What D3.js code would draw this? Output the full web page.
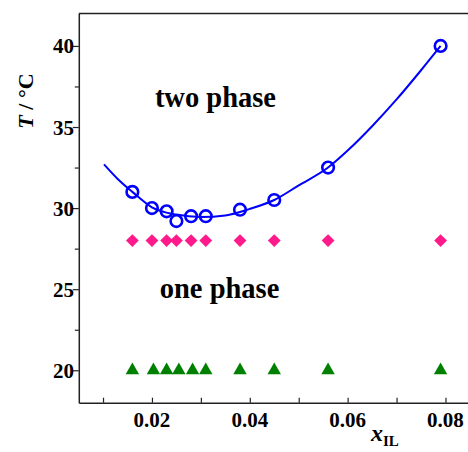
<!DOCTYPE html>
<html>
<head>
<meta charset="utf-8">
<script src="https://cdn.jsdelivr.net/npm/d3@7"></script>
<style>
  html, body { margin: 0; padding: 0; background: #fff; }
  svg { display: block; }
  text { font-family: "Liberation Serif", "Times New Roman", serif; font-weight: bold; }
</style>
</head>
<body>
<svg id="chart" width="468" height="452"></svg>
<script>
// ---- data ----
const cloudX = [0.016, 0.020, 0.023, 0.025, 0.028, 0.031, 0.038, 0.045, 0.056, 0.079];
const cloudT = [31.0, 30.0, 29.8, 29.2, 29.5, 29.5, 29.9, 30.5, 32.5, 40.0];

const twoPhaseX = [0.016, 0.020, 0.023, 0.025, 0.028, 0.031, 0.038, 0.045, 0.056, 0.079];
const twoPhaseT = [28, 28, 28, 28, 28, 28, 28, 28, 28, 28];

const onePhaseX = [0.016, 0.0203, 0.023, 0.0255, 0.0283, 0.031, 0.038, 0.045, 0.056, 0.079];
const onePhaseT = [20, 20, 20, 20, 20, 20, 20, 20, 20, 20];

const fitX = [0.0102, 0.013, 0.016, 0.020, 0.025, 0.030, 0.035, 0.040, 0.045, 0.050, 0.056, 0.060, 0.065, 0.070, 0.075, 0.079];
const fitT = [32.7, 31.8, 31.0, 30.05, 29.6, 29.45, 29.55, 29.95, 30.5, 31.4, 32.5, 33.55, 35.05, 36.7, 38.5, 40.0];

const xTicks = [0.01, 0.02, 0.03, 0.04, 0.05, 0.06, 0.07, 0.08];
const xTickLabels = [0.02, 0.04, 0.06, 0.08];
const yTicks = [20, 22.5, 25, 27.5, 30, 32.5, 35, 37.5, 40];
const yTickLabels = [20, 25, 30, 35, 40];

const regionLabels = ["two phase", "one phase"];
const regionLabelX = [0.0206, 0.0216];
const regionLabelT = [36.25, 24.45];

// ---- scales ----
const svg = d3.select("#chart");
const x = d3.scaleLinear().domain([0.00505, 0.0846]).range([78.8, 468]);
const y = d3.scaleLinear().domain([18, 42]).range([402.7, 13.5]);

const axisColor = "#222";

// ---- axes ----
const gx = svg.append("g").attr("transform", `translate(0,${y(18)})`);
gx.call(d3.axisBottom(x).tickValues(xTicks).tickSizeInner(-5).tickSizeOuter(0).tickFormat(""));
gx.select(".domain").attr("stroke", axisColor).attr("stroke-width", 1.5);
gx.selectAll(".tick line").attr("stroke", axisColor).attr("stroke-width", 1.2);

svg.append("g").selectAll("text").data(xTickLabels).join("text")
  .attr("x", d => x(d)).attr("y", 427)
  .attr("text-anchor", "middle").attr("font-size", 21).attr("fill", "#000")
  .text(d => d3.format(".2f")(d));

const gy = svg.append("g").attr("transform", `translate(${x(0.00505)},0)`);
gy.call(d3.axisLeft(y).tickValues(yTicks).tickSizeOuter(0).tickFormat(""));
gy.select(".domain").attr("stroke", axisColor).attr("stroke-width", 1.5);
gy.selectAll(".tick line")
  .attr("stroke", axisColor).attr("stroke-width", 1.2)
  .attr("x2", d => yTickLabels.includes(d) ? -6 : -4);

svg.append("g").selectAll("text").data(yTickLabels).join("text")
  .attr("x", 74).attr("y", d => y(d) + 7.5)
  .attr("text-anchor", "end").attr("font-size", 21).attr("fill", "#000")
  .text(d => d);

// top frame line
svg.append("line")
  .attr("x1", x(0.00505)).attr("x2", x(0.0846))
  .attr("y1", y(42)).attr("y2", y(42))
  .attr("stroke", axisColor).attr("stroke-width", 1.5);

// axis titles
const yt = svg.append("text")
  .attr("transform", `translate(33,101) rotate(-90)`)
  .attr("text-anchor", "middle").attr("font-size", 22).attr("fill", "#000");
yt.append("tspan").attr("font-style", "italic").text("T");
yt.append("tspan").text(" / °C");

const xt = svg.append("text")
  .attr("x", 371).attr("y", 441)
  .attr("font-size", 24).attr("fill", "#000");
xt.append("tspan").attr("font-style", "italic").text("x");
xt.append("tspan").attr("font-size", 15).attr("dy", 5).text("IL");

// ---- fit curve ----
const fitData = fitX.map((v, i) => [v, fitT[i]]);
svg.append("path")
  .datum(fitData)
  .attr("fill", "none").attr("stroke", "#0000ff").attr("stroke-width", 2)
  .attr("d", d3.line().x(d => x(d[0])).y(d => y(d[1])).curve(d3.curveMonotoneX));

// ---- one phase triangles ----
svg.append("g").selectAll("path").data(onePhaseX.map((v, i) => [v, onePhaseT[i]])).join("path")
  .attr("transform", d => `translate(${x(d[0])},${y(d[1])})`)
  .attr("d", d3.symbol().type(d3.symbolTriangle).size(78))
  .attr("fill", "#008000");

// ---- two phase diamonds ----
svg.append("g").selectAll("path").data(twoPhaseX.map((v, i) => [v, twoPhaseT[i]])).join("path")
  .attr("transform", d => `translate(${x(d[0])},${y(d[1])}) rotate(45)`)
  .attr("d", d3.symbol().type(d3.symbolSquare).size(82))
  .attr("fill", "#ff1a8c");

// ---- cloud point circles ----
svg.append("g").selectAll("circle").data(cloudX.map((v, i) => [v, cloudT[i]])).join("circle")
  .attr("cx", d => x(d[0])).attr("cy", d => y(d[1]))
  .attr("r", 5.8)
  .attr("fill", "none").attr("stroke", "#0000ff").attr("stroke-width", 2.6);

// ---- region labels ----
svg.append("g").selectAll("text").data(regionLabels).join("text")
  .attr("x", (d, i) => x(regionLabelX[i])).attr("y", (d, i) => y(regionLabelT[i]))
  .attr("font-size", 28.5).attr("fill", "#000")
  .text(d => d);
</script>
</body>
</html>
